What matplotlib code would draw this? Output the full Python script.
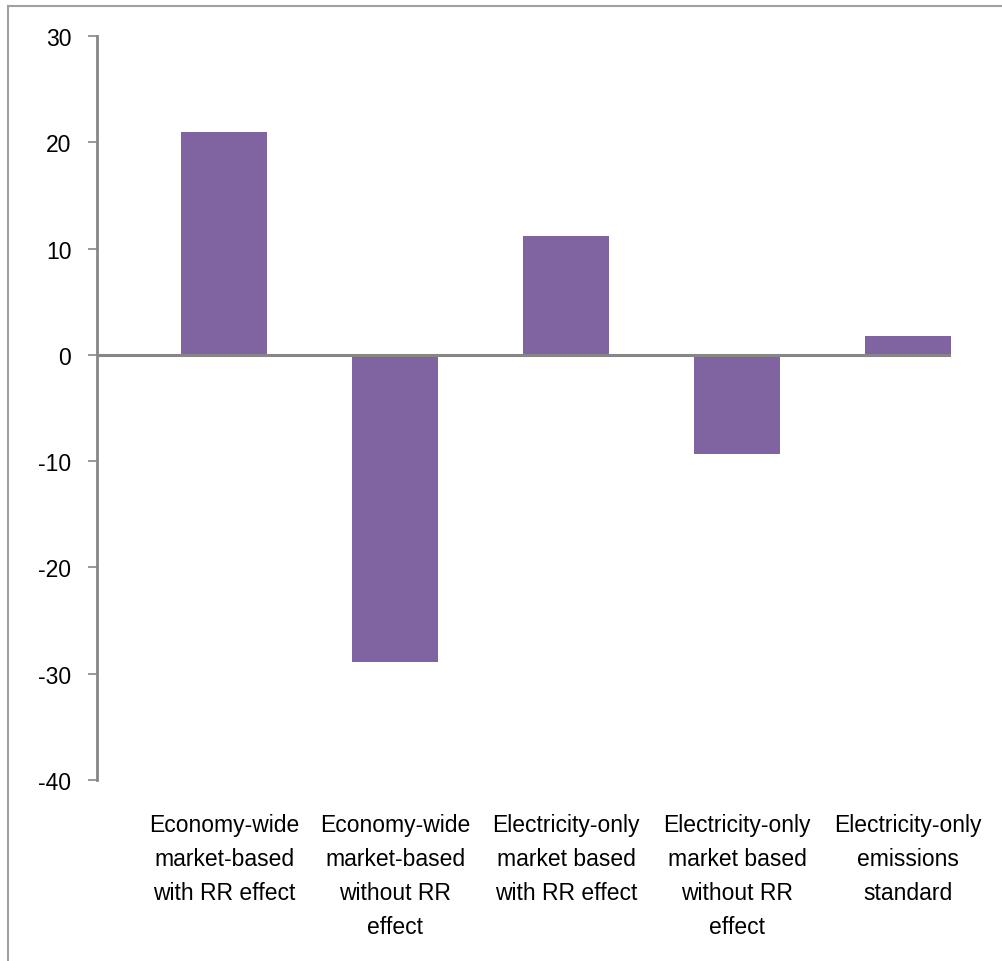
# bar chart of percentage change by policy scenario
import matplotlib.pyplot as plt
import numpy as np
from matplotlib.lines import Line2D

# data
scenarios = ['Economy-wide\nmarket-based\nwith RR effect',
             'Economy-wide\nmarket-based\nwithout RR\neffect',
             'Electricity-only\nmarket based\nwith RR effect',
             'Electricity-only\nmarket based\nwithout RR\neffect',
             'Electricity-only\nemissions\nstandard']
values = [21.0, -28.9, 11.2, -9.3, 1.8]
yTicks = [-40, -30, -20, -10, 0, 10, 20, 30]
yTickLabels = ['-40', '-30', '-20', '-10', '0', '10', '20', '30']

barColor = '#8064A2'
axisColor = '#868686'

fig = plt.figure(figsize=(10.03, 9.62), dpi=100)
W, H = 1003, 962
ax = fig.add_axes([97 / W, 1 - 781 / H, (951 - 97) / W, (781 - 37) / H])

x = np.arange(len(values))
ax.bar(x, values, width=0.503, color=barColor, zorder=2)
ax.axhline(0, color=axisColor, linewidth=2.2, zorder=3)

ax.set_xlim(-0.743, len(values) - 1 + 0.2515)
ax.set_ylim(yTicks[0], yTicks[-1])
ax.set_yticks(yTicks)
ax.set_yticklabels(yTickLabels, fontsize=16.5, family='Liberation Sans')
ax.set_xticks(x)
ax.set_xticklabels(scenarios, fontsize=16.5, family='Liberation Sans',
                   linespacing=1.6, va='top')

# spines and ticks in excel style
for side in ['top', 'right', 'bottom']:
    ax.spines[side].set_visible(False)
ax.spines['left'].set_color(axisColor)
ax.spines['left'].set_linewidth(2)
ax.tick_params(axis='y', direction='out', length=6.5, width=1.2,
               color=axisColor, pad=12)
ax.tick_params(axis='x', length=0, pad=24)

# chart frame border (cropped on the right and bottom)
fig.add_artist(Line2D([8 / W, 8 / W], [0, 1 - 7 / H], color='#a0a0a0',
                      linewidth=1.5, transform=fig.transFigure))
fig.add_artist(Line2D([8 / W, 1], [1 - 7 / H, 1 - 7 / H], color='#a0a0a0',
                      linewidth=1.5, transform=fig.transFigure))

fig.savefig('out.png', dpi=100)
